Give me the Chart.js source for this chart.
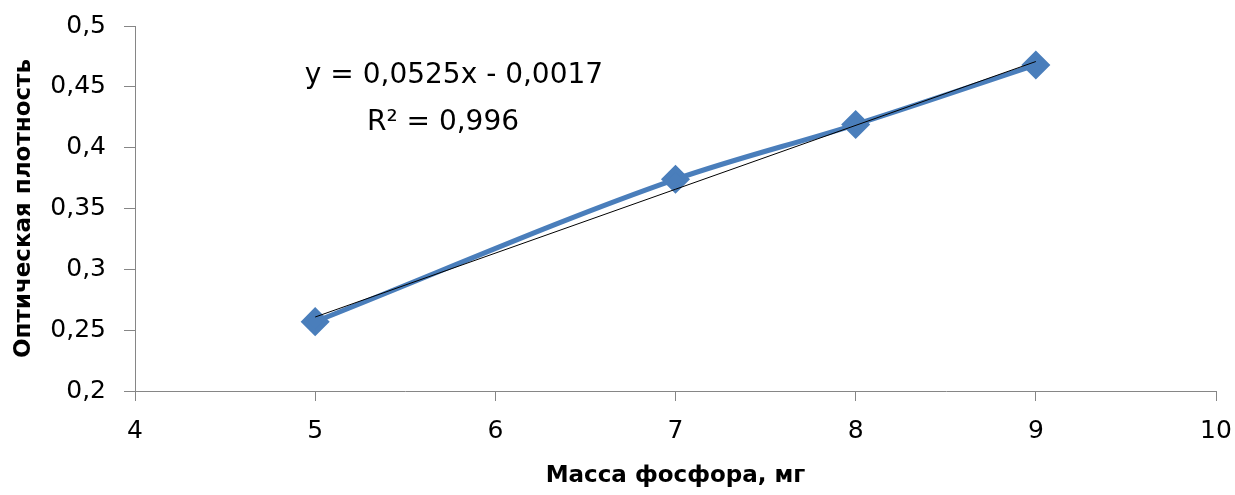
<!DOCTYPE html>
<html>
<head>
<meta charset="utf-8">
<script src="https://cdn.jsdelivr.net/npm/chart.js@4.4.0/dist/chart.umd.min.js"></script>
<style>
  html, body { margin: 0; padding: 0; background: #fff; }
  #wrap { width: 1235px; height: 495px; position: relative; }
</style>
</head>
<body>
<div id="wrap"><canvas id="myChart" width="1235" height="495"></canvas></div>
<script>
// data
const massX = [5, 7, 8, 9];
const density = [0.257, 0.374, 0.419, 0.468];
// trendline from the displayed equation
const trendSlope = 0.0525;
const trendIntercept = -0.0017;
const trendText = ['y = 0,0525x - 0,0017', 'R\u00b2 = 0,996'];

const FONT = 'DejaVu Sans';
const comma = v => String(Math.round(v * 1000) / 1000).replace('.', ',');

const points = massX.map((x, i) => ({ x: x, y: density[i] }));
const xFirst = massX[0], xLast = massX[massX.length - 1];
const trendPoints = [
    { x: xFirst, y: trendSlope * xFirst + trendIntercept },
    { x: xLast, y: trendSlope * xLast + trendIntercept }
];

//draws the equation label
const eqLabel = {
    id: 'eqLabel',
    afterDatasetsDraw(chart) {
        const ctx = chart.ctx;
        const a = chart.chartArea;
        ctx.save();
        ctx.fillStyle = '#000';
        ctx.font = '28px "' + FONT + '"';
        ctx.textAlign = 'center';
        ctx.textBaseline = 'middle';
        ctx.fillText(trendText[0], a.left + 319, a.top + 50);
        ctx.fillText(trendText[1], a.left + 308, a.top + 97);
        ctx.restore();
    }
};

let myChart = document.getElementById('myChart').getContext('2d');

let dataChart = new Chart(myChart, {
    type: 'line',
    data: {
        datasets: [{
            label: 'data',
            data: points,
            borderColor: '#4A7EBB',
            backgroundColor: '#4A7EBB',
            borderWidth: 5,
            pointStyle: 'rectRot',
            pointRadius: 11,
            pointHoverRadius: 11,
            cubicInterpolationMode: 'monotone',
            order: 2
        }, {
            label: 'trend',
            data: trendPoints,
            borderColor: '#000',
            borderWidth: 1,
            pointRadius: 0,
            order: 1
        }]
    },
    options: {
        responsive: false,
        animation: false,
        events: [],
        layout: { padding: { left: 0, right: 19, top: 26, bottom: 0 } },
        plugins: {
            legend: { display: false },
            tooltip: { enabled: false }
        },
        scales: {
            x: {
                type: 'linear',
                min: 4,
                max: 10,
                ticks: {
                    stepSize: 1,
                    color: '#000',
                    padding: 15,
                    font: { family: FONT, size: 25 },
                    callback: v => comma(v)
                },
                grid: { drawOnChartArea: false, color: '#868686', tickLength: 10 },
                border: { color: '#868686' },
                title: {
                    display: true,
                    text: 'Масса фосфора, мг',
                    color: '#000',
                    font: { family: FONT, size: 23, weight: 'bold' },
                    padding: { top: 10, bottom: 5 }
                },
                afterFit: s => { s.height = 104; s.paddingLeft = 0; s.paddingRight = 0; }
            },
            y: {
                min: 0.2,
                max: 0.5,
                ticks: {
                    stepSize: 0.05,
                    color: '#000',
                    padding: 18,
                    font: { family: FONT, size: 25 },
                    callback: v => comma(v)
                },
                grid: { drawOnChartArea: false, color: '#868686', tickLength: 11 },
                border: { color: '#868686' },
                title: {
                    display: true,
                    text: 'Оптическая плотность',
                    color: '#000',
                    font: { family: FONT, size: 23, weight: 'bold' },
                    padding: { top: 10, bottom: 10 }
                },
                afterFit: s => { s.width = 135; s.paddingTop = 0; s.paddingBottom = 0; }
            }
        }
    },
    plugins: [eqLabel]
});
</script>
</body>
</html>
